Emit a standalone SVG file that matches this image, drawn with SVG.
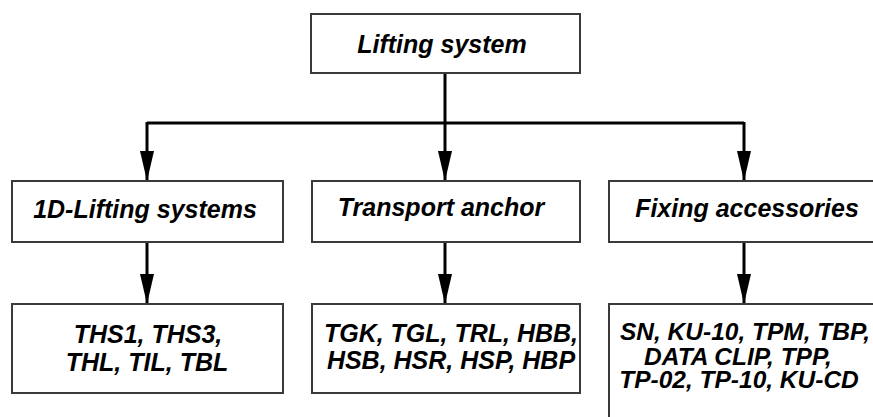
<svg xmlns="http://www.w3.org/2000/svg" width="873" height="417" viewBox="0 0 873 417">
<style>
.box{fill:#fff;stroke:#3a3a3a;stroke-width:2}
.t{font-family:"Liberation Sans",Arial,sans-serif;font-weight:bold;font-style:italic;font-size:25px;fill:#000}
.s{font-size:24.5px}
.c{text-anchor:middle}
.ln{fill:none;stroke:#000;stroke-width:3}
</style>
<defs>
<marker id="arr" markerUnits="userSpaceOnUse" markerWidth="30" markerHeight="14" refX="30" refY="7" orient="auto" viewBox="0 0 30 14">
<path d="M0,0 L30,7 L0,14 Z" fill="#000"/>
</marker>
</defs>
<g id="connectors">
<path class="ln" d="M445,73 V123"/>
<path class="ln" d="M147,123 H744"/>
<path class="ln" d="M147,122 V181" marker-end="url(#arr)"/>
<path class="ln" d="M445,122 V181" marker-end="url(#arr)"/>
<path class="ln" d="M744,122 V181" marker-end="url(#arr)"/>
<path class="ln" d="M147,242 V304" marker-end="url(#arr)"/>
<path class="ln" d="M445,242 V304" marker-end="url(#arr)"/>
<path class="ln" d="M744,242 V304" marker-end="url(#arr)"/>
</g>
<g id="lifting-system">
<rect class="box" x="311" y="14" width="269" height="59"/>
<text class="t c" x="442" y="53">Lifting system</text>
</g>
<g id="1d-lifting">
<rect class="box" x="12" y="181" width="271" height="61"/>
<text class="t c" x="145" y="218">1D-Lifting systems</text>
</g>
<g id="transport-anchor">
<rect class="box" x="312" y="181" width="268" height="61"/>
<text class="t c" x="441" y="216">Transport anchor</text>
</g>
<g id="fixing-accessories">
<rect class="box" x="609" y="181" width="280" height="61"/>
<text class="t c" x="747" y="217">Fixing accessories</text>
</g>
<g id="ths">
<rect class="box" x="12" y="304" width="271" height="89"/>
<text class="t c" x="148" y="343">THS1, THS3,</text>
<text class="t c" x="147" y="371">THL, TIL, TBL</text>
</g>
<g id="tgk">
<rect class="box" x="312" y="304" width="268" height="89"/>
<text class="t c" x="451" y="342">TGK, TGL, TRL, HBB,</text>
<text class="t c" x="451" y="369">HSB, HSR, HSP, HBP</text>
</g>
<g id="sn">
<rect class="box" x="609" y="304" width="280" height="130"/>
<text class="t s c" x="745" y="340">SN, KU-10, TPM, TBP,</text>
<text class="t s c" x="738" y="365">DATA CLIP, TPP,</text>
<text class="t s c" x="739" y="388">TP-02, TP-10, KU-CD</text>
</g>
</svg>
